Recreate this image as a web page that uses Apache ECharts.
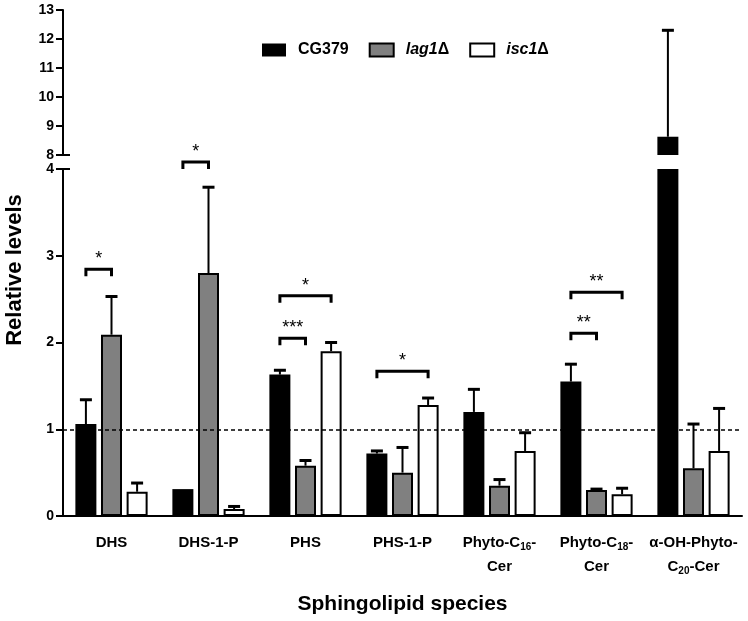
<!DOCTYPE html>
<html>
<head>
<meta charset="utf-8">
<script src="https://cdn.jsdelivr.net/npm/echarts@6/dist/echarts.min.js"></script>
<style>html,body{margin:0;padding:0;background:#fff}#c{width:748px;height:621px}</style>
</head>
<body>
<div id="c"></div>
<script>
// ---- data ----
const categories = ['DHS', 'DHS-1-P', 'PHS', 'PHS-1-P', 'Phyto-C16-\nCer', 'Phyto-C18-\nCer', 'α-OH-Phyto-\nC20-Cer'];
const seriesNames = ['CG379', 'lag1Δ', 'isc1Δ'];
const cg379    = [1.06, 0.31, 1.63, 0.72, 1.20, 1.55, 8.63];
const cg379Err = [0.28, 0.00, 0.05, 0.03, 0.26, 0.20, 3.67];
const lag1     = [2.09, 2.80, 0.58, 0.50, 0.35, 0.30, 0.55];
const lag1Err  = [0.44, 0.99, 0.06, 0.29, 0.07, 0.01, 0.51];
const isc1     = [0.28, 0.08, 1.90, 1.28, 0.75, 0.25, 0.75];
const isc1Err  = [0.10, 0.03, 0.10, 0.08, 0.21, 0.07, 0.49];
const lowerTicks = [0, 1, 2, 3, 4];
const upperTicks = [8, 9, 10, 11, 12, 13];
const referenceLevel = 1;
// significance brackets: [category index, bracket level, from series, to series, label]
const brackets = [
  [0, 2.845, 0, 1, '*'],
  [1, 4.08, 0, 1, '*'],
  [2, 2.54, 0, 2, '*'],
  [2, 2.05, 0, 1, '***'],
  [3, 1.67, 0, 2, '*'],
  [5, 2.58, 0, 2, '**'],
  [5, 2.106, 0, 1, '**']
];

// ---- styles ----
const FONT = 'Arial, "Liberation Sans", sans-serif';
const BAR_W = 21;
const STEP = 25.6; // distance between bar centers within a group
const fills = ['#000000', '#808080', '#ffffff'];
const borders = [0, 2, 2];

const lowerMin = lowerTicks[0], lowerMax = lowerTicks[lowerTicks.length - 1];
const upperMin = upperTicks[0], upperMax = upperTicks[upperTicks.length - 1];
const means = [cg379, lag1, isc1];
const errs = [cg379Err, lag1Err, isc1Err];

function errRender(k, lo, hi) {
  return function (params, api) {
    const x = api.value(0), v = api.value(1), e = api.value(2);
    if (!(e > 0) || v < lo || v > hi) return;
    const base = api.coord([x, v]);
    const top = api.coord([x, v + e]);
    const cx = base[0] + (k - 1) * STEP;
    return {
      type: 'group',
      children: [
        { type: 'line', shape: { x1: cx, y1: base[1], x2: cx, y2: top[1] }, style: { stroke: '#000', lineWidth: 2 } },
        { type: 'line', shape: { x1: cx - 6, y1: top[1], x2: cx + 6, y2: top[1] }, style: { stroke: '#000', lineWidth: 3 } }
      ]
    };
  };
}

const series = [];
// reference dashed line (behind bars)
series.push({
  type: 'line', xAxisIndex: 1, yAxisIndex: 1, data: [], z: 1, silent: true,
  markLine: {
    silent: true, symbol: 'none', label: { show: false },
    lineStyle: { color: '#000', type: [4, 3], width: 1.5 },
    data: [{ yAxis: referenceLevel }]
  }
});
// lower grid bars
for (let k = 0; k < 3; k++) {
  series.push({
    name: seriesNames[k], type: 'bar', xAxisIndex: 1, yAxisIndex: 1,
    data: means[k], barWidth: BAR_W, barGap: '22%', z: 3, clip: true,
    itemStyle: { color: fills[k], borderColor: '#000', borderWidth: borders[k] }
  });
}
// upper grid bars (only values above the break)
for (let k = 0; k < 3; k++) {
  series.push({
    name: seriesNames[k], type: 'bar', xAxisIndex: 0, yAxisIndex: 0,
    data: means[k].map(v => v >= upperMin ? v : '-'), barWidth: BAR_W, barGap: '22%', z: 3, clip: true,
    itemStyle: { color: fills[k], borderColor: '#000', borderWidth: borders[k] }
  });
}
// error bars
for (let k = 0; k < 3; k++) {
  const d = means[k].map((v, i) => [i, v, errs[k][i]]);
  series.push({ type: 'custom', xAxisIndex: 1, yAxisIndex: 1, data: d, z: 2, silent: true, renderItem: errRender(k, lowerMin, lowerMax) });
  series.push({ type: 'custom', xAxisIndex: 0, yAxisIndex: 0, data: d, z: 2, silent: true, renderItem: errRender(k, upperMin, upperMax) });
}
// significance brackets
series.push({
  type: 'custom', xAxisIndex: 1, yAxisIndex: 1, clip: false, silent: true, z: 4,
  data: brackets.map(b => [b[0], b[1], b[2], b[3]]),
  renderItem: function (params, api) {
    const i = params.dataIndex;
    const p = api.coord([api.value(0), api.value(1)]);
    const x1 = p[0] + (api.value(2) - 1) * STEP;
    const x2 = p[0] + (api.value(3) - 1) * STEP;
    const y = p[1];
    return {
      type: 'group',
      children: [
        { type: 'polyline', shape: { points: [[x1, y + 7], [x1, y], [x2, y], [x2, y + 7]] }, style: { stroke: '#000', lineWidth: 3, fill: null } },
        { type: 'text', style: { text: brackets[i][4], x: (x1 + x2) / 2, y: y - 10, align: 'center', verticalAlign: 'middle', font: '18px ' + FONT, fill: '#000' } }
      ]
    };
  }
});

const chart = echarts.init(document.getElementById('c'), null, { renderer: 'canvas' });
const axisLineStyle = { color: '#000', width: 2 };
const tickLabel = { margin: 9, color: '#000', fontSize: 14, fontWeight: 'bold', fontFamily: FONT };
chart.setOption({
  animation: false,
  backgroundColor: '#fff',
  textStyle: { fontFamily: FONT },
  legend: {
    data: seriesNames, top: 37, left: 257, icon: 'rect', itemWidth: 24, itemHeight: 13, itemGap: 20,
    formatter: function (n) {
      if (n === 'CG379') return '{n|' + n + '}';
      return '{i|' + n.slice(0, -1) + '}{d|Δ}';
    },
    textStyle: {
      color: '#000', fontFamily: FONT,
      rich: {
        n: { fontSize: 16, fontWeight: 'bold', color: '#000', fontFamily: FONT, padding: [0, 0, 0, 7] },
        i: { fontSize: 16, fontWeight: 'bold', fontStyle: 'italic', color: '#000', fontFamily: FONT, padding: [0, 0, 0, 7] },
        d: { fontSize: 16, fontWeight: 'bold', color: '#000', fontFamily: FONT }
      }
    }
  },
  grid: [
    { left: 63, right: 6, top: 10, height: 145 },
    { left: 63, right: 6, top: 169, height: 347 }
  ],
  xAxis: [
    { type: 'category', gridIndex: 0, data: categories, show: false },
    {
      type: 'category', gridIndex: 1, data: categories,
      axisLine: { lineStyle: axisLineStyle },
      axisTick: { alignWithLabel: true, length: 6, lineStyle: { width: 2, color: '#000' } },
      axisLabel: {
        margin: 15, color: '#000', fontSize: 15, fontWeight: 'bold', lineHeight: 24, fontFamily: FONT, interval: 0,
        formatter: v => v.replace(/C(\d+)/g, 'C{s|$1}'),
        rich: { s: { fontSize: 10, fontWeight: 'bold', color: '#000', fontFamily: FONT, padding: [8, 0, 0, 0], lineHeight: 24 } }
      },
      name: 'Sphingolipid species', nameLocation: 'middle', nameGap: 78,
      nameTextStyle: { fontSize: 21, fontWeight: 'bold', color: '#000', fontFamily: FONT }
    }
  ],
  yAxis: [
    {
      type: 'value', gridIndex: 0, min: upperMin, max: upperMax, interval: 1,
      axisLine: { show: true, lineStyle: axisLineStyle },
      axisTick: { show: true, length: 7, lineStyle: { width: 2, color: '#000' } },
      axisLabel: tickLabel,
      splitLine: { show: false }
    },
    {
      type: 'value', gridIndex: 1, min: lowerMin, max: lowerMax, interval: 1,
      axisLine: { show: true, lineStyle: axisLineStyle },
      axisTick: { show: true, length: 7, lineStyle: { width: 2, color: '#000' } },
      axisLabel: tickLabel,
      splitLine: { show: false }
    }
  ],
  graphic: [
    { type: 'text', x: 15, y: 270, rotation: Math.PI / 2, style: { text: 'Relative levels', font: 'bold 22px ' + FONT, fill: '#000', align: 'center', verticalAlign: 'middle' } },
    { type: 'line', shape: { x1: 63, y1: 155, x2: 70, y2: 155 }, style: { stroke: '#000', lineWidth: 2 } },
    { type: 'line', shape: { x1: 63, y1: 169, x2: 70, y2: 169 }, style: { stroke: '#000', lineWidth: 2 } }
  ],
  series: series
});
</script>
</body>
</html>
